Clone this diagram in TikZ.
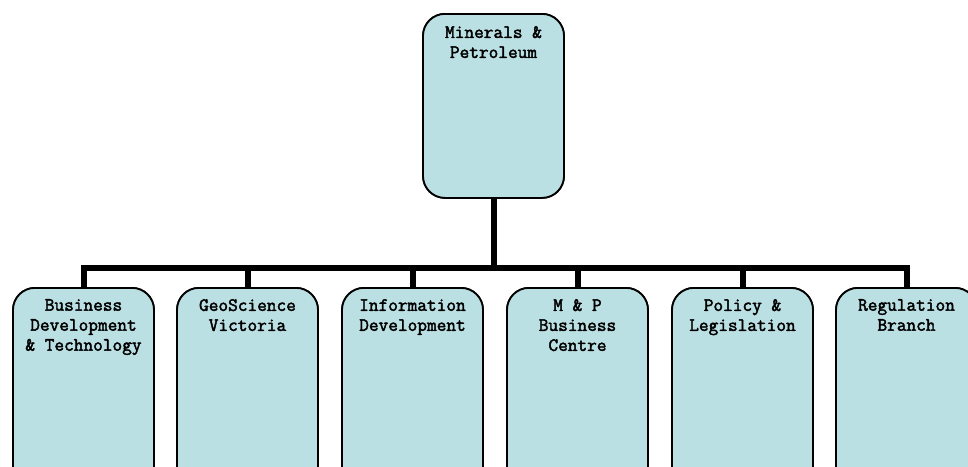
\documentclass[tikz,border=0pt]{standalone}
\usepackage{fontspec}
\newfontfamily\courbold{Latin Modern Mono}[FakeBold=2.2]
\begin{document}
\begin{tikzpicture}[x=1pt,y=-1pt,
  box/.style={draw=black,line width=1.8pt,fill=boxfill,rounded corners=22pt,
    minimum width=141pt,inner sep=0pt,anchor=north},
  lbl/.style={anchor=north,inner sep=0pt,align=center,
    font=\fontsize{18.8}{20}\selectfont\courbold},
  conn/.style={draw=black,line width=6pt}]
\definecolor{boxfill}{HTML}{BBE0E3}
\useasboundingbox (0,0) rectangle (968,466);
\clip (0,0) rectangle (968,466);
\node[box,minimum height=184pt] (top) at (493.5,13) {};
\coordinate (bar) at (493.5,268);
\foreach \i/\x in {1/83.5,2/247.5,3/412.5,4/577.5,5/742.5,6/906.5}{
  \node[box,minimum height=210pt] (b\i) at (\x,287) {};
}
\draw[conn] (top.south) -- (bar) -| (b1.north);
\draw[conn] (bar) -| (b2.north);
\draw[conn] (bar) -| (b3.north);
\draw[conn] (bar) -| (b4.north);
\draw[conn] (bar) -| (b5.north);
\draw[conn] (bar) -| (b6.north);
\node[box,minimum height=184pt] at (top.north) {};
\foreach \i in {1,...,6}{
  \node[box,minimum height=210pt] at (b\i.north) {};
}
\node[lbl] (ttop) at ([yshift=-13pt]top.north) {Minerals \&\\Petroleum};
\node[lbl] (t1) at ([yshift=-12pt]b1.north) {Business\\Development\\\& Technology};
\node[lbl] (t2) at ([yshift=-12pt]b2.north) {GeoScience\\Victoria};
\node[lbl] (t3) at ([yshift=-12pt]b3.north) {Information\\Development};
\node[lbl] (t4) at ([yshift=-12pt]b4.north) {M \& P\\Business\\Centre};
\node[lbl] (t5) at ([yshift=-12pt]b5.north) {Policy \&\\Legislation};
\node[lbl] (t6) at ([yshift=-12pt]b6.north) {Regulation\\Branch};
\end{tikzpicture}
\end{document}
